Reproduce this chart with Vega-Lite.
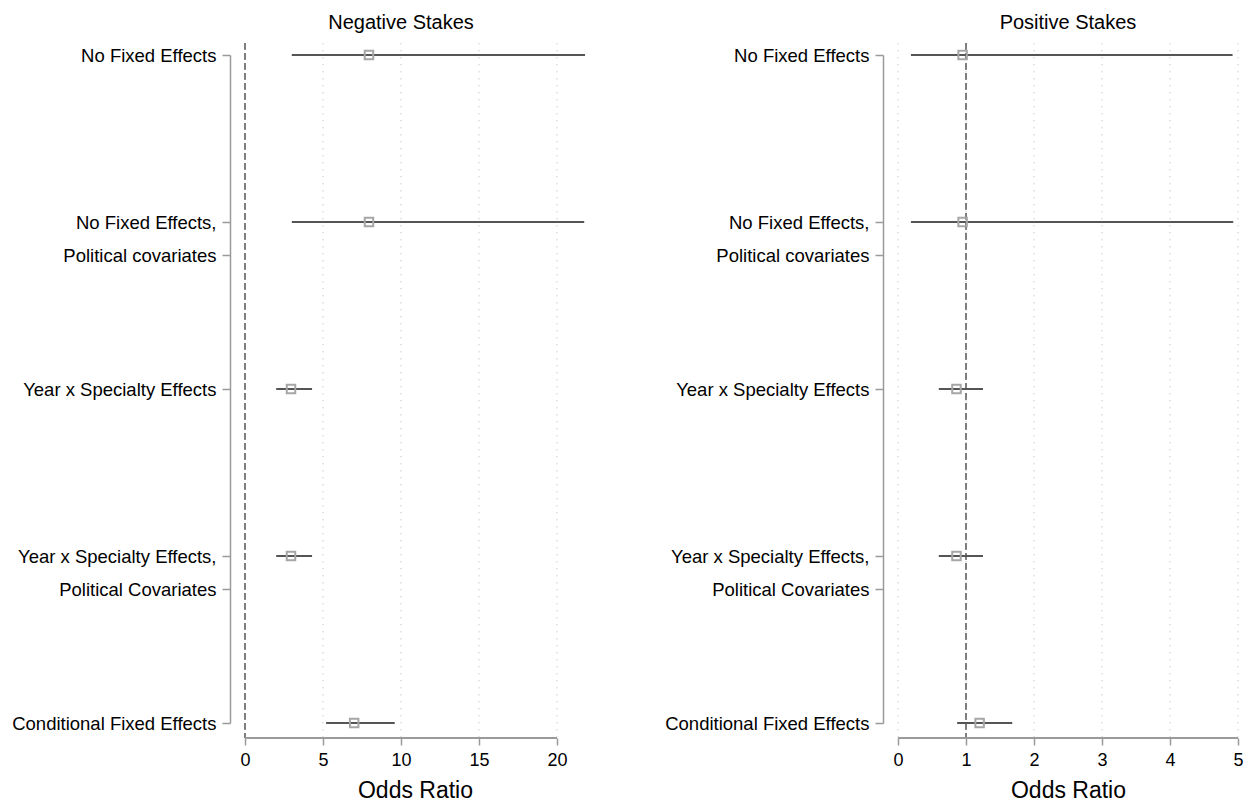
{
  "$schema": "https://vega.github.io/schema/vega-lite/v6.json",
  "background": "white",
  "padding": {"left": 11, "top": 12, "right": 5, "bottom": 5},
  "spacing": 77,
  "config": {
    "font": "Liberation Sans",
    "view": {"stroke": null}
  },
  "datasets": {
    "est": [
      {"panel": "Negative Stakes", "model": "No Fixed Effects", "row": 1, "or": 7.95, "lo": 3.0, "hi": 21.8},
      {"panel": "Negative Stakes", "model": "No Fixed Effects, Political covariates", "row": 2, "or": 7.95, "lo": 3.0, "hi": 21.75},
      {"panel": "Negative Stakes", "model": "Year x Specialty Effects", "row": 3, "or": 2.95, "lo": 2.0, "hi": 4.3},
      {"panel": "Negative Stakes", "model": "Year x Specialty Effects, Political Covariates", "row": 4, "or": 2.95, "lo": 2.0, "hi": 4.3},
      {"panel": "Negative Stakes", "model": "Conditional Fixed Effects", "row": 5, "or": 7.0, "lo": 5.2, "hi": 9.6},
      {"panel": "Positive Stakes", "model": "No Fixed Effects", "row": 1, "or": 0.95, "lo": 0.19, "hi": 4.92},
      {"panel": "Positive Stakes", "model": "No Fixed Effects, Political covariates", "row": 2, "or": 0.95, "lo": 0.19, "hi": 4.93},
      {"panel": "Positive Stakes", "model": "Year x Specialty Effects", "row": 3, "or": 0.86, "lo": 0.6, "hi": 1.25},
      {"panel": "Positive Stakes", "model": "Year x Specialty Effects, Political Covariates", "row": 4, "or": 0.86, "lo": 0.6, "hi": 1.25},
      {"panel": "Positive Stakes", "model": "Conditional Fixed Effects", "row": 5, "or": 1.2, "lo": 0.87, "hi": 1.68}
    ],
    "gridNeg": [{"v": 5}, {"v": 10}, {"v": 15}, {"v": 20}],
    "gridPos": [{"v": 0}, {"v": 1}, {"v": 2}, {"v": 3}, {"v": 4}, {"v": 5}]
  },
  "hconcat": [
    {
      "width": 340,
      "height": 668,
      "title": {"text": "Negative Stakes", "anchor": "middle", "dx": -14, "offset": 10, "fontSize": 20, "fontWeight": "normal", "color": "black", "font": "Liberation Sans"},
      "layer": [
        {
          "data": {"name": "gridNeg"},
          "mark": {"type": "rule", "color": "#b4b4b4", "strokeWidth": 1, "strokeDash": [1, 6]},
          "encoding": {
            "x": {"field": "v", "type": "quantitative", "scale": {"domain": [0, 21.8], "nice": false, "zero": false}},
            "y": {"datum": 0.93, "type": "quantitative", "scale": {"domain": [1, 5], "reverse": true, "nice": false, "zero": false}},
            "y2": {"datum": 5.09}
          }
        },
        {
          "data": {"name": "est"},
          "mark": {"type": "rule", "color": "#7f7f7f", "strokeWidth": 1.5, "strokeDash": [6, 4]},
          "encoding": {
            "x": {"datum": 0, "type": "quantitative"},
            "y": {"datum": 0.93, "type": "quantitative"},
            "y2": {"datum": 5.09}
          }
        },
        {
          "data": {"name": "est"},
          "mark": {"type": "rule", "color": "#9a9a9a", "strokeWidth": 1.5},
          "encoding": {
            "x": {"datum": 0, "type": "quantitative"},
            "x2": {"datum": 20},
            "y": {"datum": 5.09, "type": "quantitative"}
          }
        },
        {
          "data": {"name": "est"},
          "transform": [{"filter": "datum.panel == 'Negative Stakes'"}],
          "mark": {"type": "rule", "color": "#555555", "strokeWidth": 2.2},
          "encoding": {
            "x": {
              "field": "lo", "type": "quantitative",
              "axis": {
                "values": [0, 5, 10, 15, 20], "format": "d", "offset": 15, "domain": false,
                "ticks": true, "tickSize": 7, "tickColor": "#9a9a9a", "tickWidth": 1.5,
                "labelFontSize": 18, "labelColor": "black", "labelPadding": 6, "labelFlush": false,
                "grid": false, "title": "Odds Ratio", "titleFontSize": 23, "titleFontWeight": "normal",
                "titleColor": "black", "titlePadding": 10
              }
            },
            "x2": {"field": "hi"},
            "y": {
              "field": "row", "type": "quantitative",
              "axis": {
                "values": [1, 2, 2.2, 3, 4, 4.2, 5],
                "labelExpr": "datum.value == 1 ? 'No Fixed Effects' : datum.value == 2 ? 'No Fixed Effects,\u00a0\u00a0\u00a0' : (datum.value > 2.1 && datum.value < 2.3) ? 'Political covariates' : datum.value == 3 ? 'Year x Specialty Effects' : datum.value == 4 ? 'Year x Specialty Effects,' : (datum.value > 4.1 && datum.value < 4.3) ? 'Political Covariates' : 'Conditional Fixed Effects'",
                "offset": 15, "domain": true, "domainColor": "#9a9a9a", "domainWidth": 1.5,
                "tickColor": "#9a9a9a", "tickSize": 8, "tickWidth": 1.5,
                "labelPadding": 6, "labelFontSize": 18.5, "labelColor": "black", "labelLimit": 400,
                "labelOverlap": false, "labelFlush": false, "grid": false, "title": null
              }
            }
          }
        },
        {
          "data": {"name": "est"},
          "transform": [{"filter": "datum.panel == 'Negative Stakes'"}],
          "mark": {"type": "point", "shape": "square", "filled": false, "size": 72, "strokeWidth": 2, "color": "#a6a6a6", "opacity": 1},
          "encoding": {
            "x": {"field": "or", "type": "quantitative"},
            "y": {"field": "row", "type": "quantitative"}
          }
        }
      ]
    },
    {
      "width": 340,
      "height": 668,
      "title": {"text": "Positive Stakes", "anchor": "middle", "offset": 10, "fontSize": 20, "fontWeight": "normal", "color": "black", "font": "Liberation Sans"},
      "layer": [
        {
          "data": {"name": "gridPos"},
          "mark": {"type": "rule", "color": "#b4b4b4", "strokeWidth": 1, "strokeDash": [1, 6]},
          "encoding": {
            "x": {"field": "v", "type": "quantitative", "scale": {"domain": [0, 5], "nice": false, "zero": false}},
            "y": {"datum": 0.93, "type": "quantitative", "scale": {"domain": [1, 5], "reverse": true, "nice": false, "zero": false}},
            "y2": {"datum": 5.09}
          }
        },
        {
          "data": {"name": "est"},
          "mark": {"type": "rule", "color": "#7f7f7f", "strokeWidth": 1.5, "strokeDash": [6, 4]},
          "encoding": {
            "x": {"datum": 1, "type": "quantitative"},
            "y": {"datum": 0.93, "type": "quantitative"},
            "y2": {"datum": 5.09}
          }
        },
        {
          "data": {"name": "est"},
          "mark": {"type": "rule", "color": "#9a9a9a", "strokeWidth": 1.5},
          "encoding": {
            "x": {"datum": 0, "type": "quantitative"},
            "x2": {"datum": 5},
            "y": {"datum": 5.09, "type": "quantitative"}
          }
        },
        {
          "data": {"name": "est"},
          "transform": [{"filter": "datum.panel == 'Positive Stakes'"}],
          "mark": {"type": "rule", "color": "#555555", "strokeWidth": 2.2},
          "encoding": {
            "x": {
              "field": "lo", "type": "quantitative",
              "axis": {
                "values": [0, 1, 2, 3, 4, 5], "format": "d", "offset": 15, "domain": false,
                "ticks": true, "tickSize": 7, "tickColor": "#9a9a9a", "tickWidth": 1.5,
                "labelFontSize": 18, "labelColor": "black", "labelPadding": 6, "labelFlush": false,
                "grid": false, "title": "Odds Ratio", "titleFontSize": 23, "titleFontWeight": "normal",
                "titleColor": "black", "titlePadding": 10
              }
            },
            "x2": {"field": "hi"},
            "y": {
              "field": "row", "type": "quantitative",
              "axis": {
                "values": [1, 2, 2.2, 3, 4, 4.2, 5],
                "labelExpr": "datum.value == 1 ? 'No Fixed Effects' : datum.value == 2 ? 'No Fixed Effects,\u00a0\u00a0\u00a0' : (datum.value > 2.1 && datum.value < 2.3) ? 'Political covariates' : datum.value == 3 ? 'Year x Specialty Effects' : datum.value == 4 ? 'Year x Specialty Effects,' : (datum.value > 4.1 && datum.value < 4.3) ? 'Political Covariates' : 'Conditional Fixed Effects'",
                "offset": 15, "domain": true, "domainColor": "#9a9a9a", "domainWidth": 1.5,
                "tickColor": "#9a9a9a", "tickSize": 8, "tickWidth": 1.5,
                "labelPadding": 6, "labelFontSize": 18.5, "labelColor": "black", "labelLimit": 400,
                "labelOverlap": false, "labelFlush": false, "grid": false, "title": null
              }
            }
          }
        },
        {
          "data": {"name": "est"},
          "transform": [{"filter": "datum.panel == 'Positive Stakes'"}],
          "mark": {"type": "point", "shape": "square", "filled": false, "size": 72, "strokeWidth": 2, "color": "#a6a6a6", "opacity": 1},
          "encoding": {
            "x": {"field": "or", "type": "quantitative"},
            "y": {"field": "row", "type": "quantitative"}
          }
        }
      ]
    }
  ]
}
